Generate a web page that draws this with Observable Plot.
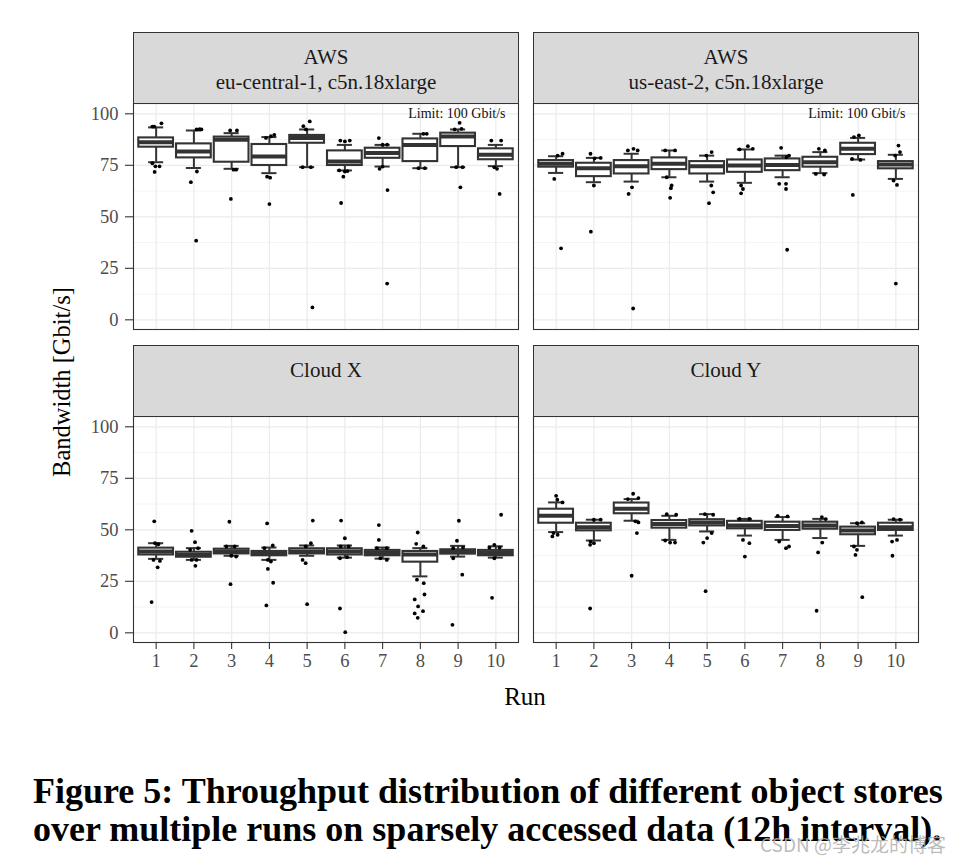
<!DOCTYPE html>
<html>
<head>
<meta charset="utf-8">
<script src="https://cdn.jsdelivr.net/npm/d3@7"></script>
<script src="https://cdn.jsdelivr.net/npm/@observablehq/plot@0.6"></script>
<style>
  body { margin: 0; background: #fff; }
  #root { position: relative; width: 968px; height: 862px; overflow: hidden; background: #fff; font-family: "Liberation Serif", serif; }
  .abs { position: absolute; }
  .strip { position: absolute; background: #d9d9d9; border: 1.1px solid #333; box-sizing: border-box; }
  .stripline { position: absolute; left: 0; right: 0; text-align: center; font-size: 21px; line-height: 25px; color: #1a1a1a; white-space: nowrap; }
  .cap { position: absolute; left: 33px; font-weight: bold; font-size: 36px; line-height: 38px; color: #000; white-space: nowrap; }
</style>
</head>
<body>
<div id="root"></div>
<script>
// ---------------- data ----------------
const runs = [1, 2, 3, 4, 5, 6, 7, 8, 9, 10];
const yTicks = [0, 25, 50, 75, 100];
const yMinorTicks = [12.5, 37.5, 62.5, 87.5];
const stripTitles = [["AWS", "eu-central-1, c5n.18xlarge"], ["AWS", "us-east-2, c5n.18xlarge"], ["Cloud X"], ["Cloud Y"]];
const limitLabel = "Limit: 100 Gbit/s";
const limitValue = 100;
const yTitle = "Bandwidth [Gbit/s]";
const xTitle = "Run";
const captionLines = ["Figure 5: Throughput distribution of different object stores", "over multiple runs on sparsely accessed data (12h interval)."];
const watermark = "CSDN @李兆龙的博客";

// AWS eu-central-1 (box statistics per run)
const euQ1  = [83.8, 78.6, 76.5, 74.9, 85.7, 74.9, 78.4, 76.8, 84.1, 77.7];
const euMed = [86.2, 81.7, 87.4, 79.3, 88.2, 76.9, 81.0, 84.9, 89.0, 80.1];
const euQ3  = [88.3, 85.4, 88.7, 85.1, 89.5, 82.0, 83.3, 87.8, 90.6, 83.0];
const euLo  = [76.5, 73.7, 73.3, 71.2, 74.1, 72.5, 74.4, 73.6, 74.1, 74.6];
const euHi  = [93.4, 91.9, 90.6, 88.7, 92.4, 84.9, 84.9, 90.3, 92.4, 84.9];
// [run, value, horizontal jitter in run units]
const euPoints = [
  [1,93.8,-0.1],[1,93.8,-0.05],[1,95.4,0.14],[1,76.0,-0.1],[1,74.5,-0.02],[1,74.5,0.09],[1,71.8,-0.04],
  [2,92.4,0.07],[2,92.6,0.15],[2,92.4,0.2],[2,72.0,0.08],[2,66.8,-0.08],[2,38.4,0.06],
  [3,91.9,-0.04],[3,91.9,0.14],[3,72.9,0.05],[3,72.9,0.12],[3,58.7,-0.02],
  [4,88.3,-0.09],[4,89.1,0.04],[4,89.8,0.13],[4,69.5,-0.06],[4,69.0,0.02],[4,56.2,0],
  [5,94.0,-0.1],[5,92.4,-0.03],[5,96.3,0.07],[5,74.1,-0.12],[5,74.1,0.1],[5,6.0,0.14],
  [6,87.0,-0.12],[6,86.6,0],[6,87.0,0.13],[6,72.5,-0.15],[6,72.0,0],[6,72.2,0.07],[6,69.5,-0.04],[6,56.7,-0.1],
  [7,88.2,-0.1],[7,85.0,0],[7,85.0,0.12],[7,73.3,-0.08],[7,74.4,0],[7,63.0,0.13],[7,17.6,0.12],
  [8,90.3,0.08],[8,90.3,0.17],[8,73.6,-0.05],[8,73.6,0.12],
  [9,95.6,0.04],[9,92.4,-0.09],[9,92.7,0.09],[9,74.1,-0.05],[9,74.1,0.12],[9,64.3,0.06],
  [10,87.0,-0.12],[10,87.0,0.14],[10,74.0,-0.04],[10,73.3,0.03],[10,61.1,0.1]
];

// AWS us-east-2
const usQ1  = [74.1, 69.5, 70.8, 72.9, 70.8, 71.6, 72.4, 74.1, 80.2, 73.3];
const usMed = [75.7, 73.6, 74.6, 75.7, 74.6, 74.9, 75.2, 76.5, 83.0, 75.4];
const usQ3  = [77.3, 76.0, 77.3, 78.6, 76.8, 77.6, 78.1, 78.9, 85.7, 76.8];
const usLo  = [71.3, 66.8, 67.1, 69.2, 67.1, 66.5, 69.2, 71.2, 77.8, 68.4];
const usHi  = [79.4, 78.6, 80.6, 82.2, 79.7, 82.7, 79.7, 81.4, 88.3, 80.1];
const usPoints = [
  [1,79.7,0.04],[1,80.6,0.17],[1,68.4,-0.05],[1,34.7,0.13],
  [2,80.6,-0.09],[2,78.4,0.02],[2,78.6,0.18],[2,65.2,0],[2,42.8,-0.08],
  [3,82.2,-0.1],[3,83.0,0.05],[3,82.2,0.16],[3,64.3,0.01],[3,61.1,-0.08],[3,5.5,0.04],
  [4,82.2,-0.11],[4,82.2,0.15],[4,69.2,-0.07],[4,65.2,0.06],[4,63.9,0.04],[4,59.2,0.02],
  [5,79.7,-0.02],[5,81.4,0.12],[5,65.2,0.11],[5,61.9,0.16],[5,56.6,0.05],
  [6,82.7,-0.14],[6,84.3,0.08],[6,83.0,0.21],[6,65.2,-0.1],[6,63.5,-0.05],[6,61.4,-0.1],
  [7,83.5,-0.04],[7,78.9,0.1],[7,79.7,0.17],[7,66.0,-0.09],[7,66.0,0.09],[7,63.5,0.09],[7,34.0,0.12],
  [8,83.0,-0.04],[8,82.2,0.12],[8,70.8,-0.12],[8,70.5,0.1],
  [9,88.7,-0.11],[9,89.5,0.02],[9,78.1,-0.16],[9,77.6,0.06],[9,60.6,-0.14],
  [10,84.6,0.07],[10,81.4,0.11],[10,79.7,-0.02],[10,67.6,-0.06],[10,65.5,0.03],[10,17.6,0]
];

// Cloud X
const cxQ1  = [37.8, 36.7, 38.3, 37.4, 38.3, 37.8, 37.4, 34.3, 38.2, 37.4];
const cxMed = [39.5, 37.8, 39.5, 38.3, 39.5, 39.5, 38.7, 38.0, 39.2, 38.7];
const cxQ3  = [41.1, 39.1, 40.6, 39.5, 40.8, 40.8, 40.0, 39.5, 40.3, 40.0];
const cxLo  = [35.9, 35.4, 37.4, 35.4, 37.4, 36.5, 36.0, 27.4, 37.0, 36.5];
const cxHi  = [43.5, 41.1, 42.2, 41.4, 42.4, 42.4, 41.4, 41.1, 42.2, 42.0];
const cxPoints = [
  [1,54.1,-0.05],[1,43.5,-0.03],[1,43.0,0.06],[1,35.4,-0.07],[1,34.9,0.1],[1,31.8,0.04],[1,14.9,-0.12],
  [2,49.5,-0.06],[2,44.0,0.03],[2,40.3,-0.1],[2,41.1,0.11],[2,35.4,-0.06],[2,35.4,0.07],[2,32.5,0.04],
  [3,53.9,-0.06],[3,41.9,-0.14],[3,41.9,0.08],[3,37.4,-0.01],[3,37.0,0.12],[3,23.6,-0.03],
  [4,53.1,-0.06],[4,41.1,-0.13],[4,42.4,0.09],[4,35.4,-0.04],[4,34.6,0.04],[4,31.0,-0.04],[4,24.3,0.1],[4,13.3,-0.08],
  [5,54.5,0.15],[5,43.5,0.1],[5,41.9,-0.04],[5,35.4,-0.12],[5,33.8,-0.04],[5,13.9,0],
  [6,54.5,-0.1],[6,45.9,0],[6,41.9,-0.11],[6,41.9,0.1],[6,36.2,-0.13],[6,36.7,0.06],[6,11.8,-0.13],[6,0.3,0.01],
  [7,52.3,-0.1],[7,45.1,-0.1],[7,41.1,-0.15],[7,41.1,0.11],[7,36.2,-0.06],[7,35.4,0.11],
  [8,48.7,-0.07],[8,43.2,-0.11],[8,41.9,0.08],[8,25.8,-0.09],[8,24.1,0.09],[8,18.6,0.11],[8,16.2,-0.15],[8,12.8,-0.06],[8,10.5,0.07],[8,9.4,-0.15],[8,7.3,-0.07],
  [9,54.4,0.02],[9,44.7,-0.03],[9,41.1,-0.13],[9,41.4,0.13],[9,36.2,-0.13],[9,28.2,0.11],[9,3.9,-0.15],
  [10,57.3,0.14],[10,42.7,-0.04],[10,41.4,-0.17],[10,41.4,0.1],[10,36.2,-0.04],[10,17.0,-0.1]
];

// Cloud Y
const cyQ1  = [53.2, 49.5, 57.8, 50.8, 51.9, 50.5, 49.7, 50.3, 47.6, 49.7];
const cyMed = [56.8, 51.3, 60.2, 52.8, 53.6, 52.1, 51.9, 52.1, 49.7, 51.3];
const cyQ3  = [60.0, 53.2, 63.0, 54.5, 54.9, 54.1, 53.7, 53.7, 51.3, 53.2];
const cyLo  = [48.9, 44.8, 54.4, 45.1, 49.2, 47.2, 45.1, 46.0, 42.2, 47.2];
const cyHi  = [63.3, 54.9, 64.9, 56.8, 57.6, 55.3, 56.2, 55.3, 53.2, 54.9];
const cyPoints = [
  [1,66.5,0],[1,64.6,0.03],[1,63.3,0.17],[1,48.4,-0.07],[1,47.6,0.04],[1,46.8,-0.1],
  [2,54.9,0],[2,54.9,0.18],[2,44.3,-0.09],[2,43.5,0],[2,42.7,-0.1],[2,11.8,-0.1],
  [3,67.5,0.04],[3,64.9,-0.1],[3,65.4,0.18],[3,54.1,0.1],[3,53.6,0.18],[3,48.4,0.14],[3,27.7,0],
  [4,57.6,-0.07],[4,57.3,0.18],[4,44.8,-0.11],[4,43.8,0.02],[4,43.8,0.15],
  [5,57.6,-0.06],[5,57.3,0.16],[5,48.4,0.12],[5,46.0,0],[5,43.8,-0.1],[5,20.2,-0.04],
  [6,55.3,-0.14],[6,55.3,0.12],[6,45.1,-0.05],[6,43.5,0.12],[6,37.0,0],
  [7,56.8,-0.13],[7,56.5,0.13],[7,44.3,-0.09],[7,41.1,0.09],[7,41.9,0.17],
  [8,56.2,0.04],[8,55.2,0.14],[8,43.8,0.05],[8,39.0,-0.06],[8,10.7,-0.1],
  [9,53.2,-0.03],[9,53.6,0.1],[9,41.9,-0.11],[9,40.3,-0.03],[9,37.8,-0.07],[9,17.3,0.11],
  [10,55.2,-0.06],[10,54.9,0.11],[10,44.3,-0.1],[10,45.1,0.03],[10,37.4,-0.09]
];

// ---------------- layout ----------------
const root = document.getElementById("root");
const INK = "#333333";
const GRID = "#ebebeb";
const boxHalf = 0.46, capHalf = 0.2;

function makePanel(q1, med, q3, lo, hi, pts, opts) {
  const boxes = runs.map((r, i) => ({run: r, q1: q1[i], med: med[i], q3: q3[i], lo: lo[i], hi: hi[i]}));
  const points = pts.map(([run, value, j]) => ({run, value, j}));
  const marks = [
    Plot.ruleY(yMinorTicks, {stroke: GRID, strokeWidth: 0.6}),
    Plot.ruleY(yTicks, {stroke: GRID, strokeWidth: 1.2}),
    Plot.ruleX(runs, {stroke: GRID, strokeWidth: 1.2}),
    Plot.ruleX(boxes, {x: "run", y1: "q3", y2: "hi", stroke: INK, strokeWidth: 2}),
    Plot.ruleX(boxes, {x: "run", y1: "lo", y2: "q1", stroke: INK, strokeWidth: 2}),
    Plot.ruleY(boxes, {y: "hi", x1: d => d.run - capHalf, x2: d => d.run + capHalf, stroke: INK, strokeWidth: 2}),
    Plot.ruleY(boxes, {y: "lo", x1: d => d.run - capHalf, x2: d => d.run + capHalf, stroke: INK, strokeWidth: 2}),
    Plot.rect(boxes, {x1: d => d.run - boxHalf, x2: d => d.run + boxHalf, y1: "q1", y2: "q3", fill: "white", stroke: INK, strokeWidth: 2.1}),
    Plot.ruleY(boxes, {y: "med", x1: d => d.run - boxHalf, x2: d => d.run + boxHalf, stroke: INK, strokeWidth: 4}),
    Plot.dot(points, {x: d => d.run + d.j, y: "value", r: 1.9, fill: "black", stroke: "none"}),
    Plot.frame({stroke: INK, strokeWidth: 1.1})
  ];
  if (opts.limit) {
    marks.push(Plot.text([{label: limitLabel, value: limitValue}], {y: "value", text: "label", frameAnchor: "right", dx: -13, textAnchor: "end", fontSize: 14, fill: "#111"}));
  }
  if (opts.showY) marks.push(Plot.axisY(yTicks, {tickSize: 8, tickPadding: 7, fontSize: 18.5, stroke: INK, strokeWidth: 1.1, fill: "#4d4d4d", label: null}));
  if (opts.showX) marks.push(Plot.axisX(runs, {tickSize: 7, tickPadding: 4, fontSize: 18.5, stroke: INK, strokeWidth: 1.1, fill: "#4d4d4d", label: null}));
  const svg = Plot.plot({
    width: opts.showY ? 479 : 388,
    height: opts.showX ? 268 : 228,
    marginLeft: opts.showY ? 93 : 1,
    marginRight: opts.showY ? 1 : 2,
    marginTop: 1,
    marginBottom: opts.showX ? 41 : 1,
    x: {type: "linear", domain: [0.4, 10.6], axis: opts.showX ? undefined : null},
    y: {type: "linear", domain: [-4.7, 105], axis: opts.showY ? undefined : null},
    style: {fontFamily: "Liberation Serif, serif", background: "transparent", overflow: "visible"},
    marks
  });
  svg.style.position = "absolute";
  svg.style.left = opts.left + "px";
  svg.style.top = opts.top + "px";
  root.appendChild(svg);
}

makePanel(euQ1, euMed, euQ3, euLo, euHi, euPoints, {showY: true, showX: false, limit: true, left: 40, top: 102});
makePanel(usQ1, usMed, usQ3, usLo, usHi, usPoints, {showY: false, showX: false, limit: true, left: 532, top: 102});
makePanel(cxQ1, cxMed, cxQ3, cxLo, cxHi, cxPoints, {showY: true, showX: true, limit: false, left: 40, top: 415});
makePanel(cyQ1, cyMed, cyQ3, cyLo, cyHi, cyPoints, {showY: false, showX: true, limit: false, left: 532, top: 415});

// facet strips
const stripPos = [[133, 31.5], [533, 31.5], [133, 345], [533, 345]];
stripTitles.forEach((lines, i) => {
  const s = document.createElement("div");
  s.className = "strip";
  s.style.left = stripPos[i][0] + "px";
  s.style.top = stripPos[i][1] + "px";
  s.style.width = "386px";
  s.style.height = "72px";
  lines.forEach((t, k) => {
    const l = document.createElement("div");
    l.className = "stripline";
    l.style.top = (12 + 25 * k) + "px";
    l.textContent = t;
    s.appendChild(l);
  });
  root.appendChild(s);
});

// axis titles
const yt = document.createElement("div");
yt.className = "abs";
yt.textContent = yTitle;
Object.assign(yt.style, {left: "62px", top: "382px", fontSize: "24.5px", color: "#000", whiteSpace: "nowrap", transform: "translate(-50%,-50%) rotate(-90deg)"});
root.appendChild(yt);
const xt = document.createElement("div");
xt.className = "abs";
xt.textContent = xTitle;
Object.assign(xt.style, {left: "525px", top: "697px", fontSize: "25px", color: "#000", whiteSpace: "nowrap", transform: "translate(-50%,-50%)"});
root.appendChild(xt);

// caption
captionLines.forEach((t, k) => {
  const c = document.createElement("div");
  c.className = "cap";
  c.style.top = (772 + 38 * k) + "px";
  c.textContent = t;
  root.appendChild(c);
});

// watermark
const wm = document.createElement("div");
wm.className = "abs";
wm.textContent = watermark;
Object.assign(wm.style, {left: "760px", top: "832px", fontSize: "19px", lineHeight: "24px", color: "rgba(175,175,175,0.85)", fontFamily: "'Noto Sans CJK SC', 'Noto Sans', sans-serif", whiteSpace: "nowrap"});
root.appendChild(wm);
</script>
</body>
</html>
